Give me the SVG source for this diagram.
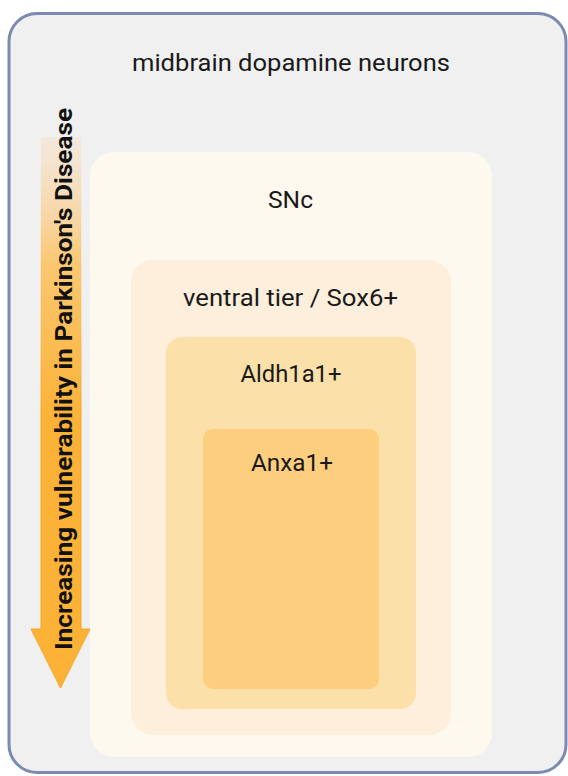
<svg xmlns="http://www.w3.org/2000/svg" width="568" height="776" viewBox="0 0 568 776">
<defs>
<linearGradient id="arrowGrad" gradientUnits="userSpaceOnUse" x1="0" y1="137" x2="0" y2="420">
<stop offset="0" stop-color="#f9dcc0" stop-opacity="0.4"/>
<stop offset="0.45" stop-color="#fbc770"/>
<stop offset="1" stop-color="#fcb236"/>
</linearGradient>
<linearGradient id="arrowStroke" gradientUnits="userSpaceOnUse" x1="0" y1="137" x2="0" y2="420">
<stop offset="0" stop-color="#f9dcc0" stop-opacity="0"/>
<stop offset="1" stop-color="#f6a621"/>
</linearGradient>
</defs>
<style>
.lbl{font-family:Roboto,"Liberation Sans",sans-serif;font-size:24px;fill:#1a1a1a;text-anchor:middle}
.title{font-size:24.5px}
.vert{font-family:Roboto,"Liberation Sans",sans-serif;font-size:23.5px;font-weight:bold;fill:#111;text-anchor:middle}
</style>
<g id="outer">
<rect x="9" y="13.5" width="557" height="759" rx="28" fill="#f0f0f0" stroke="#7a8ab0" stroke-width="3"/>
<text class="lbl title" x="291" y="71" textLength="318" lengthAdjust="spacingAndGlyphs">midbrain dopamine neurons</text>
</g>
<g id="snc">
<rect x="90" y="152" width="402" height="605" rx="24" fill="#fdf9ef"/>
<text class="lbl" x="290.5" y="208" textLength="45" lengthAdjust="spacingAndGlyphs">SNc</text>
</g>
<g id="ventral">
<rect x="131" y="260" width="320" height="475" rx="22" fill="#fdefdc"/>
<text class="lbl" x="290.5" y="306" textLength="215" lengthAdjust="spacingAndGlyphs">ventral tier / Sox6+</text>
</g>
<g id="aldh">
<rect x="166" y="337" width="250" height="372" rx="16" fill="#fbe0aa"/>
<text class="lbl" x="291" y="382" textLength="101" lengthAdjust="spacingAndGlyphs">Aldh1a1+</text>
</g>
<g id="anxa">
<rect x="203" y="429" width="176" height="260" rx="10" fill="#fdce7e"/>
<text class="lbl" x="292" y="471" textLength="82" lengthAdjust="spacingAndGlyphs">Anxa1+</text>
</g>
<g id="connectors">
<path d="M41,137 L81,137 L81,629 L90,629 L60.5,688 L31,629 L41,629 Z" fill="url(#arrowGrad)" stroke="url(#arrowStroke)" stroke-width="1"/>
<text class="vert" transform="translate(71.5,379) rotate(-90)" x="0" y="0" textLength="542" lengthAdjust="spacingAndGlyphs">Increasing vulnerability in Parkinson's Disease</text>
</g>
</svg>
